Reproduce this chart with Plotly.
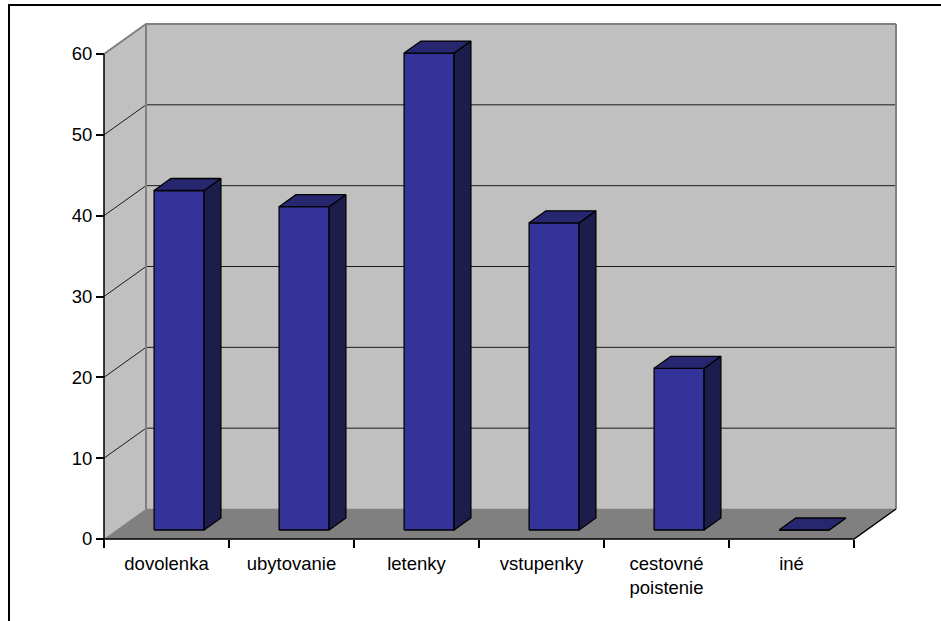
import plotly.graph_objects as go

# --- data -------------------------------------------------------------
categories = ["dovolenka", "ubytovanie", "letenky", "vstupenky",
              "cestovné<br>poistenie", "iné"]
values = [42, 40, 59, 38, 20, 0]
y_ticks = [0, 10, 20, 30, 40, 50, 60]

# --- oblique 3-D projection (depth expressed in data units) ----------
DX, DY = 0.336, 3.71          # shift of the back plane
BAR_LO, BAR_HI = 0.3, 0.7     # bar extent inside its category slot
D_FRONT, D_BACK = 0.3, 0.7    # bar extent along depth
Y_TOP = y_ticks[-1]
N = len(categories)

WALL = "#C0C0C0"
FLOOR = "#808080"
EDGE = "#808080"
FRONT = "#333399"
TOP = "#27276F"
SIDE = "#1D1D4C"


def proj(x, y, d):
    return x + DX * d, y + DY * d


def poly(points, fill, line_color, line_width):
    xs, ys = zip(*[proj(*p) for p in points + [points[0]]])
    return go.Scatter(x=xs, y=ys, mode="lines", fill="toself",
                      fillcolor=fill,
                      line=dict(color=line_color, width=line_width),
                      hoverinfo="skip", showlegend=False)


def seg(points, color, width):
    xs, ys = zip(*[proj(*p) for p in points])
    return go.Scatter(x=xs, y=ys, mode="lines",
                      line=dict(color=color, width=width),
                      hoverinfo="skip", showlegend=False)


traces = []

# walls and floor
traces.append(poly([(0, 0, 1), (N, 0, 1), (N, Y_TOP, 1), (0, Y_TOP, 1)],
                   WALL, WALL, 0.5))
traces.append(poly([(0, 0, 0), (0, 0, 1), (0, Y_TOP, 1), (0, Y_TOP, 0)],
                   WALL, WALL, 0.5))
traces.append(poly([(0, 0, 0), (N, 0, 0), (N, 0, 1), (0, 0, 1)],
                   FLOOR, FLOOR, 0.5))

# gridlines on back and side walls
for v in y_ticks[1:-1]:
    traces.append(seg([(0, v, 0), (0, v, 1), (N, v, 1)], "#1a1a1a", 1))

# wall edges
traces.append(seg([(0, 0, 1), (0, Y_TOP, 1)], EDGE, 2))
traces.append(seg([(N, 0, 1), (N, Y_TOP, 1)], EDGE, 2))
traces.append(seg([(0, Y_TOP, 0), (0, Y_TOP, 1), (N, Y_TOP, 1)], EDGE, 2))

# bars
for i, v in enumerate(values):
    x0, x1 = i + BAR_LO, i + BAR_HI
    traces.append(poly([(x0, 0, D_FRONT), (x1, 0, D_FRONT),
                        (x1, v, D_FRONT), (x0, v, D_FRONT)],
                       FRONT, "black", 1.3))
    traces.append(poly([(x1, 0, D_FRONT), (x1, 0, D_BACK),
                        (x1, v, D_BACK), (x1, v, D_FRONT)],
                       SIDE, "black", 1.3))
    traces.append(poly([(x0, v, D_FRONT), (x1, v, D_FRONT),
                        (x1, v, D_BACK), (x0, v, D_BACK)],
                       TOP, "black", 1.3))

# front axis lines
traces.append(seg([(0, 0, 0), (0, Y_TOP, 0)], "black", 1.5))
traces.append(seg([(0, 0, 0), (N, 0, 0), (N, 0, 1)], "black", 1.5))

fig = go.Figure(traces)

W, H = 941, 621
X_PX, X0_PX = 125.0, 104.0            # px per category, x of origin
Y_PX, Y0_PX = 485.0 / 60.0, 539.0     # px per unit, y of origin

font = dict(family="Liberation Sans, Arial, sans-serif", size=18.5,
            color="black")

fig.update_layout(
    width=W, height=H,
    margin=dict(l=0, r=0, t=0, b=0),
    paper_bgcolor="white", plot_bgcolor="white",
    hovermode=False,
    showlegend=False,
    font=font,
    xaxis=dict(
        range=[-X0_PX / X_PX, (W - X0_PX) / X_PX],
        anchor="free", position=(H - Y0_PX) / H,
        tickmode="array",
        tickvals=[i + 0.5 for i in range(N)],
        ticktext=categories,
        ticks="", showline=False, showgrid=False, zeroline=False,
        minor=dict(tickmode="array", tickvals=list(range(N + 1)),
                   ticks="outside", ticklen=8, tickcolor="black",
                   tickwidth=1.5, showgrid=False),
        ticklabelstandoff=11,
        automargin=False, fixedrange=True,
    ),
    yaxis=dict(
        range=[-(H - Y0_PX) / Y_PX, Y0_PX / Y_PX],
        anchor="free", position=X0_PX / W,
        tickmode="array", tickvals=y_ticks,
        ticks="outside", ticklen=8, tickcolor="black", tickwidth=1.5,
        showline=False, showgrid=False, zeroline=False,
        automargin=False, fixedrange=True,
    ),
    shapes=[
        dict(type="line", xref="paper", yref="paper",
             x0=8 / W, x1=1, y0=1 - 5 / H, y1=1 - 5 / H,
             line=dict(color="black", width=2)),
        dict(type="line", xref="paper", yref="paper",
             x0=9 / W, x1=9 / W, y0=0, y1=1 - 5 / H,
             line=dict(color="black", width=2)),
    ],
)

fig.write_html("out.html")
